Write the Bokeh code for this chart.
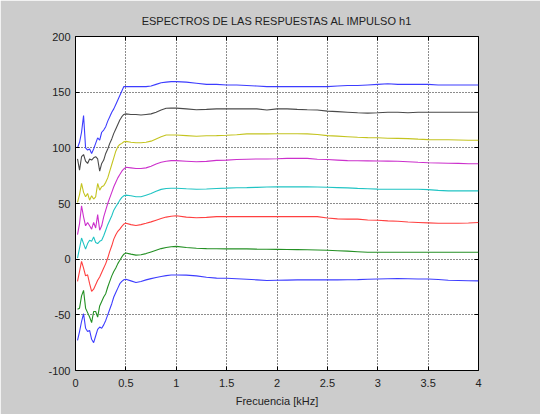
from bokeh.plotting import figure
from bokeh.models import FixedTicker, LinearAxis, Range1d
from bokeh.embed import file_html
from bokeh.resources import INLINE

title_text = "ESPECTROS DE LAS RESPUESTAS AL IMPULSO h1"
xlabel_text = "Frecuencia [kHz]"

x_ticks = [0, 0.5, 1, 1.5, 2, 2.5, 3, 3.5, 4]
x_tick_labels = ["0", "0.5", "1", "1.5", "2", "2.5", "3", "3.5", "4"]
y_ticks = [-100, -50, 0, 50, 100, 150, 200]
y_tick_labels = ["-100", "-50", "0", "50", "100", "150", "200"]

freq_khz = [0.02, 0.04, 0.06, 0.08, 0.10, 0.12, 0.14, 0.16, 0.18, 0.20,
            0.22, 0.24, 0.26, 0.28, 0.30, 0.32, 0.34, 0.36, 0.38, 0.40,
            0.42, 0.44, 0.46, 0.48, 0.50,
            0.55, 0.60, 0.65, 0.70, 0.75, 0.80, 0.85, 0.90, 0.95, 1.00,
            1.1, 1.2, 1.3, 1.4, 1.5, 1.6, 1.7, 1.8, 1.9, 2.0,
            2.1, 2.2, 2.3, 2.4, 2.5, 2.6, 2.7, 2.8, 2.9, 3.0,
            3.1, 3.2, 3.3, 3.4, 3.5, 3.6, 3.7, 3.8, 3.9, 4.0]

spec_blue_bottom = [-73, -65, -56, -49, -62, -65, -64, -72, -75, -69,
                    -63, -61, -62, -59, -55, -50, -45, -40, -34, -30,
                    -26, -22, -20, -18.5, -18,
                    -19.5, -21, -20, -18.6, -17.5, -16.5, -15.5, -14.8, -14.2, -14.2,
                    -14.3, -15, -16.3, -17, -17.2, -17.6, -18, -18.6, -19.2, -19,
                    -18.8, -18.6, -18.6, -18.6, -18.6, -18.6, -18.5, -18.4, -18, -17.8,
                    -17.6, -17.5, -17.6, -17.8, -17.8, -18.3, -19, -19.2, -19.4, -19.5]

spec_green = [-45, -44, -33, -28, -44, -48, -52, -57, -47, -47,
              -52, -42, -38, -34, -31, -25, -20, -15, -11, -8,
              -4, -1, 2, 4.5, 5.6,
              4.5, 3.6, 4, 5, 6.5, 8, 9.5, 10.5, 11.2, 11.5,
              10.5, 9.8, 9.5, 9.3, 9.2, 9.3, 9.2, 9, 8.9, 8.8,
              8.7, 8.6, 8.5, 8.3, 8, 7.6, 7.2, 6.7, 6.2, 6.2,
              6.2, 6.2, 6.2, 6.2, 6.2, 6.2, 6.2, 6.2, 6.2, 6.2]

spec_red = [-20, -11, -2, -8, -15, -14, -22, -29, -27, -23,
            -19, -16, -12, -8, -4, 1, 7, 12, 18, 22,
            25, 27, 29.5, 31.5, 32.2,
            31, 30.2, 31, 32.2, 33.5, 35, 36.5, 37.8, 38.5, 39,
            37.8, 37.2, 37.5, 38.2, 38.2, 38.2, 38.2, 38.2, 38.2, 38.2,
            38.2, 38.2, 38.2, 38.2, 37, 36.2, 36, 36, 35.2, 35,
            34.4, 34, 33.4, 33, 32.6, 32.2, 32.2, 32.2, 32.5, 33]

spec_cyan = [1, 10, 19, 14, 9, 14, 17, 16, 20, 15,
             14, 16, 17, 21, 26, 31, 35, 39, 44, 47,
             50, 53, 55.5, 57, 57.5,
             57, 56, 56, 57.5, 59, 61, 62.7, 63.5, 63.7, 63.7,
             63.2, 62.8, 63, 63.5, 63.8, 64.2, 64.3, 64.5, 64.8, 64.9,
             64.9, 64.9, 64.9, 64.8, 64.6, 64.3, 64, 63.6, 63.3, 62.9,
             62.8, 62.8, 62.8, 62.8, 62.5, 61.8, 61.3, 61.3, 61.3, 61.3]

spec_magenta = [22, 32, 48, 38, 30, 33, 30, 27, 33, 28,
                40, 26, 30, 38, 44, 50, 55, 60, 65, 69,
                73, 76, 79, 81, 82.5,
                82, 81.4, 81.5, 82, 83.5, 85.5, 87, 88, 88.5, 88.5,
                88, 87.5, 87.8, 88.7, 89, 89.5, 89.8, 90, 90, 90.2,
                90.5, 90.5, 90.5, 89.8, 89.5, 89, 88.5, 88.4, 88.3, 88.2,
                88.1, 88, 87.5, 87, 86.6, 86.4, 86.2, 86, 85.7, 85.7]

spec_yellow = [51, 58, 68, 60, 56, 59, 53, 57, 54, 56,
               68, 62, 65, 66, 69, 73, 79, 85, 91, 97,
               101, 103, 104, 105.5, 105.8,
               105, 104.5, 104.5, 105, 106, 108, 110, 111.5, 111.5, 111.5,
               111, 110.4, 110.8, 111, 111.3, 111.8, 112.5, 112.5, 112.5, 112.6,
               112.6, 112.6, 112.5, 112, 111, 110.5, 110, 109.5, 109.2, 109,
               108.6, 108.5, 108.3, 107.8, 107.4, 107.3, 107.2, 107, 106.8, 106.8]

spec_black = [90, 80, 92, 94, 88, 86, 90, 89, 91, 92,
              90, 79, 86, 89, 95, 99, 104, 108, 113, 117,
              121, 125, 128, 130, 130.5,
              130, 130, 129.5, 130, 130.5, 132, 134, 135.5, 135.7, 135.7,
              135, 134.2, 134.5, 135, 135, 135, 135, 135, 134, 135,
              135, 134.5, 134.2, 134, 133, 132.5, 132, 131.5, 131.2, 131.5,
              132, 132, 131.5, 132, 132, 132, 132, 132, 132, 132]

spec_blue_top = [100, 105, 114, 129, 100, 98, 99, 95, 99, 104,
                 109, 107, 114, 116, 119, 124, 128, 132, 135, 139,
                 143, 147, 151, 155, 155,
                 155, 155, 155, 155, 155.5, 157, 158.5, 159, 159.5, 159.5,
                 159, 158, 157, 157, 156.5, 156.5, 156, 155.5, 155, 155,
                 155, 155, 155, 155, 155, 155.5, 156, 156, 156.5, 157,
                 157.5, 157, 157, 157, 157, 156.5, 156.5, 156.5, 156.5, 156.5]

series = [
    (spec_blue_bottom, "#3d3dff"),
    (spec_green, "#249024"),
    (spec_red, "#ff4040"),
    (spec_cyan, "#20c4c4"),
    (spec_magenta, "#cc30cc"),
    (spec_yellow, "#c4c420"),
    (spec_black, "#4a4a4a"),
    (spec_blue_top, "#3d3dff"),
]

FONT = "Liberation Sans"

p = figure(width=540, height=414, output_backend="svg", toolbar_location=None,
           x_range=Range1d(0, 4), y_range=Range1d(-100, 200),
           min_border_left=75, min_border_right=62, min_border_top=36,
           min_border_bottom=44)

p.background_fill_color = "white"
p.border_fill_color = "#cccccc"
p.outline_line_color = "black"
p.outline_line_width = 1

p.title.text = title_text
p.title.align = "center"
p.title.text_font = FONT
p.title.text_font_size = "11px"
p.title.text_font_style = "normal"
p.title.text_color = "#222222"
p.title.standoff = 20

for data, col in series:
    p.line(freq_khz, data, line_color=col, line_width=1.1)

p.xaxis.ticker = FixedTicker(ticks=x_ticks)
p.yaxis.ticker = FixedTicker(ticks=y_ticks)
p.xaxis.major_label_overrides = {t: l for t, l in zip(x_ticks, x_tick_labels)}
p.yaxis.major_label_overrides = {t: l for t, l in zip(y_ticks, y_tick_labels)}
p.xaxis.axis_label = xlabel_text

for ax in (p.xaxis[0], p.yaxis[0]):
    ax.axis_line_color = None
    ax.major_tick_in = 4
    ax.major_tick_out = 0
    ax.minor_tick_line_color = None
    ax.major_tick_line_color = "black"
    ax.major_label_text_font = FONT
    ax.major_label_text_font_size = "11px"
    ax.major_label_text_color = "#222222"
    ax.axis_label_text_font = FONT
    ax.axis_label_text_font_size = "11px"
    ax.axis_label_text_font_style = "normal"
    ax.axis_label_text_color = "#222222"

p.xaxis.major_label_standoff = 8
p.xaxis.axis_label_standoff = 5
p.yaxis.major_label_standoff = 5

top_ax = LinearAxis(ticker=FixedTicker(ticks=x_ticks),
                    major_label_overrides={t: "" for t in x_ticks},
                    axis_line_color=None, major_tick_in=4, major_tick_out=0,
                    minor_tick_line_color=None, major_label_standoff=0)
right_ax = LinearAxis(ticker=FixedTicker(ticks=y_ticks),
                      major_label_overrides={t: "" for t in y_ticks},
                      axis_line_color=None, major_tick_in=4, major_tick_out=0,
                      minor_tick_line_color=None, major_label_standoff=0)
p.add_layout(top_ax, "above")
p.add_layout(right_ax, "right")

p.xgrid.ticker = FixedTicker(ticks=x_ticks)
p.ygrid.ticker = FixedTicker(ticks=y_ticks)
for g in (p.xgrid[0], p.ygrid[0]):
    g.grid_line_color = "black"
    g.grid_line_dash = "1 2"
    g.grid_line_width = 1
    g.grid_line_alpha = 0.9

open("out.html", "w").write(file_html(p, INLINE))
